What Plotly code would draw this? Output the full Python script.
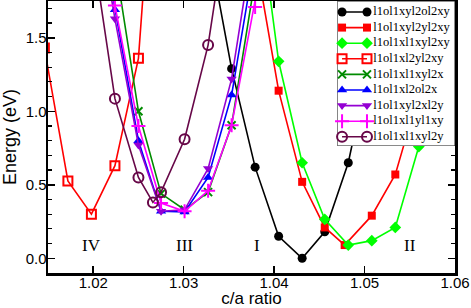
import plotly.graph_objects as go

# ---- data ----
names = ["l1ol1xyl2ol2xy", "l1ol1xyl2yl2xy", "l1ol1xl1xyl2xy", "l1ol1xl2yl2xy",
         "l1ol1xl1xyl2x", "l1ol1xl2ol2x", "l1ol1xyl2xl2y", "l1ol1xl1yl1xy", "l1ol1xl1xyl2y"]

x_black = [1.0327, 1.0353, 1.0379, 1.0405, 1.0431, 1.0456, 1.0482, 1.0508]
y_black = [2.15, 1.29, 0.62, 0.15, 0.00, 0.18, 0.65, 1.40]

x_red = [1.0379, 1.0405, 1.0431, 1.0456, 1.0478, 1.0508, 1.0534, 1.0560]
y_red = [2.06, 1.14, 0.52, 0.21, 0.09, 0.29, 0.57, 1.12]

x_green = [1.0379, 1.0405, 1.0431, 1.0456, 1.0482, 1.0508, 1.0534, 1.0560, 1.0586]
y_green = [2.55, 1.34, 0.65, 0.265, 0.09, 0.12, 0.21, 0.76, 1.55]

x_redopen = [1.0146, 1.0172, 1.0198, 1.0224, 1.0250, 1.0275]
y_redopen = [1.43, 0.526, 0.30, 0.63, 1.36, 3.47]

x_dkgreen = [1.0224, 1.0250, 1.0275, 1.0301, 1.0327, 1.0353, 1.0379]
y_dkgreen = [2.02, 1.00, 0.44, 0.33, 0.45, 0.905, 1.90]

x_blue = [1.0198, 1.0224, 1.0250, 1.0275, 1.0301, 1.0327, 1.0353, 1.0379]
y_blue = [2.60, 1.69, 0.80, 0.32, 0.315, 0.55, 1.11, 2.06]

x_violet = [1.0198, 1.0224, 1.0250, 1.0275, 1.0301, 1.0327, 1.0353, 1.0379]
y_violet = [2.55, 1.63, 0.77, 0.32, 0.33, 0.61, 1.22, 2.24]

x_magenta = [1.0198, 1.0224, 1.0250, 1.0275, 1.0301, 1.0327, 1.0353, 1.0379, 1.0405]
y_magenta = [2.60, 1.72, 0.90, 0.376, 0.32, 0.46, 0.905, 1.71, 2.60]

x_maroon = [1.0198, 1.0224, 1.0250, 1.0266, 1.0275, 1.0301, 1.0327, 1.0353]
y_maroon = [2.16, 1.086, 0.55, 0.38, 0.45, 0.81, 1.45, 2.50]

region_labels = ["IV", "III", "I", "II"]
region_x = [1.0198, 1.0301, 1.0381, 1.0550]
region_y = [0.09, 0.09, 0.09, 0.09]

x_ticks = [1.02, 1.03, 1.04, 1.05, 1.06]
y_ticks = [0.0, 0.5, 1.0, 1.5]

# ---- styles ----
series = [
    (x_black, y_black, "#000000", "circle", 9, True),
    (x_red, y_red, "#ff0000", "square", 8, True),
    (x_green, y_green, "#00ff00", "diamond", 9, True),
    (x_redopen, y_redopen, "#ff0000", "square-open", 9, False),
    (x_dkgreen, y_dkgreen, "#008b00", "x-thin", 8, False),
    (x_blue, y_blue, "#0000ff", "triangle-up", 9, True),
    (x_violet, y_violet, "#9400d3", "triangle-down", 9, True),
    (x_magenta, y_magenta, "#ff00ff", "cross-thin", 10, False),
    (x_maroon, y_maroon, "#670748", "circle-open", 10, False),
]

fig = go.Figure()
for name, (xs, ys, col, sym, size, filled) in zip(names, series):
    mk = dict(symbol=sym, size=size, color=col,
              line=dict(color=col, width=0 if filled else 2))
    fig.add_trace(go.Scatter(x=xs, y=ys, name=name, mode="lines+markers",
                             line=dict(color=col, width=1.6), marker=mk,
                             showlegend=False))

# ---- custom legend drawn in an inset subplot (compact row spacing as in the reference) ----
LEG_W = 118.0           # inset width in px units
LEG_Y = [8.59, -0.705]  # inset y range (rows 0..8, top to bottom)
sample_x = [4.7, 29.7]  # sample line ends
text_x = 36.0
for i, (name, (xs, ys, col, sym, size, filled)) in enumerate(zip(names, series)):
    mk = dict(symbol=sym, size=size, color=col,
              line=dict(color=col, width=0 if filled else 2))
    fig.add_trace(go.Scatter(x=sample_x, y=[i, i], mode="lines+markers",
                             line=dict(color=col, width=1.6), marker=mk,
                             xaxis="x2", yaxis="y2", showlegend=False,
                             hoverinfo="skip", cliponaxis=False))
    fig.add_trace(go.Scatter(x=[text_x], y=[i], mode="text", text=[name],
                             textposition="middle right",
                             textfont=dict(family="Liberation Serif", size=12.5, color="black"),
                             xaxis="x2", yaxis="y2", showlegend=False,
                             hoverinfo="skip", cliponaxis=False))

# white panel behind the legend entries (drawn in the inset's lower shape layer)
fig.add_shape(type="rect", xref="x2", yref="y2", x0=0, x1=LEG_W, y0=LEG_Y[0], y1=LEG_Y[1],
              fillcolor="white", line=dict(color="#222222", width=1), layer="below")

for lab, lx, ly in zip(region_labels, region_x, region_y):
    fig.add_annotation(x=lx, y=ly, text=lab, showarrow=False,
                       font=dict(family="Liberation Serif", size=17, color="black"))

axis_common = dict(showline=True, linecolor="black", linewidth=2.5, mirror="ticks",
                   ticks="inside", tickcolor="black", tickwidth=1.5, ticklen=7,
                   showgrid=False, zeroline=False, automargin=False,
                   tickfont=dict(family="Liberation Sans", size=15, color="black"))

fig.update_layout(
    xaxis=dict(range=[1.015, 1.06], tickvals=x_ticks, tickformat=".2f",
               ticklabelstandoff=-6,
               title_text="c/a ratio", title_standoff=6,
               title_font=dict(family="Liberation Sans", size=17, color="black"),
               domain=[0, 1], **axis_common),
    yaxis=dict(range=[-0.1, 1.75], tickvals=y_ticks, tickformat=".1f",
               ticklabelstandoff=-4,
               title_text="Energy (eV)", title_standoff=8,
               title_font=dict(family="Liberation Sans", size=18, color="black"),
               domain=[0, 1],
               minor=dict(dtick=0.1, tick0=0, ticks="inside", ticklen=4,
                          tickcolor="black", tickwidth=1.2),
               **axis_common),
    xaxis2=dict(domain=[0.711, 1.0], anchor="y2", range=[0, LEG_W],
                showline=False, showticklabels=False, ticks="", showgrid=False,
                zeroline=False, fixedrange=True),
    yaxis2=dict(domain=[0.467, 1.0], anchor="x2", range=LEG_Y,
                showline=False, showticklabels=False, ticks="", showgrid=False,
                zeroline=False, fixedrange=True),
    width=471, height=308,
    margin=dict(l=48, r=16, t=1, b=35),
    plot_bgcolor="white", paper_bgcolor="white",
    showlegend=False,
)

fig.write_html("out.html", config={"displayModeBar": False, "staticPlot": True},
               post_script="document.body.style.margin='0';")
